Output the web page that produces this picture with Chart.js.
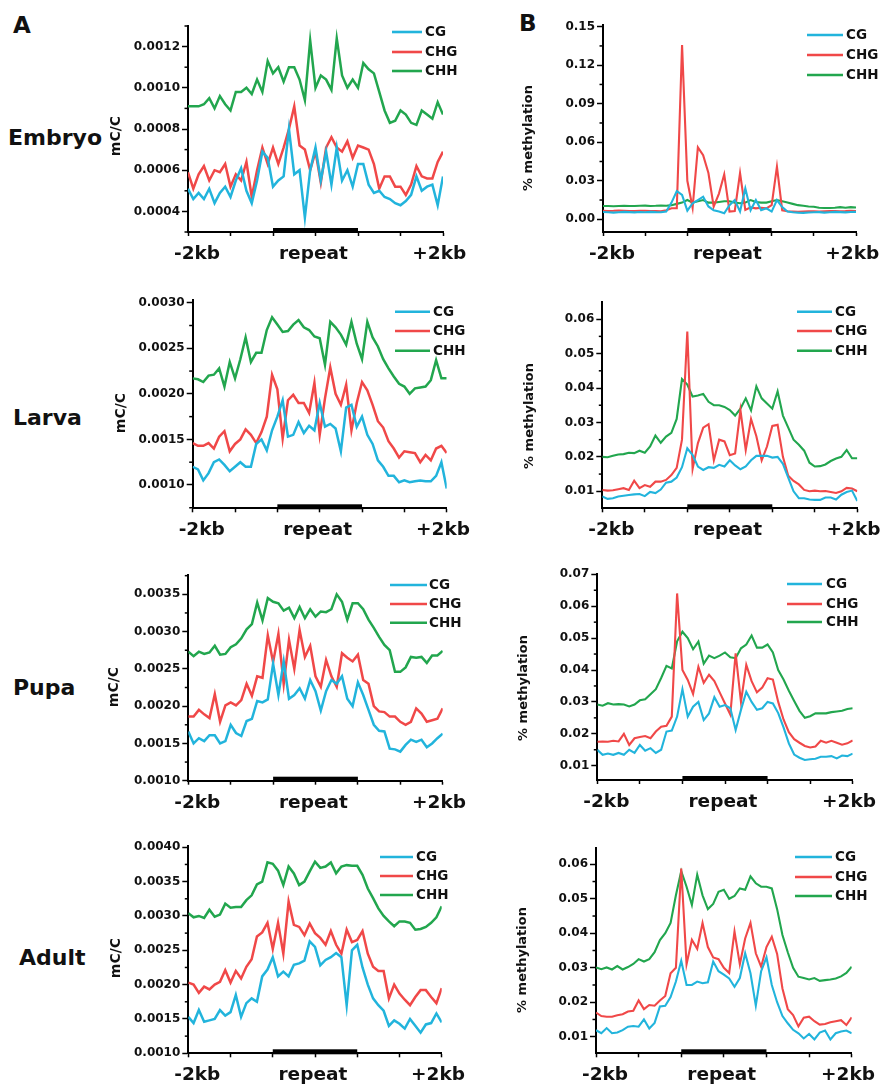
<!DOCTYPE html>
<html>
<head>
<meta charset="utf-8">
<script src="https://cdn.jsdelivr.net/npm/chart.js@4.4.1/dist/chart.umd.min.js"></script>
<style>
  body { margin: 0; background: #fff; }
  #fig { position: relative; width: 880px; height: 1085px; overflow: hidden;
         font-family: 'DejaVu Sans', sans-serif; font-weight: bold; color: #111; }
  #fig canvas { position: absolute; }
  .lbl { position: absolute; line-height: 1; white-space: nowrap; }
</style>
</head>
<body>
<div id="fig">
  <div class="lbl" style="left:13px;top:14px;font-size:23px;">A</div>
  <div class="lbl" style="left:519px;top:12px;font-size:23px;">B</div>
  <div class="lbl" style="left:8px;top:127px;font-size:22px;">Embryo</div>
  <div class="lbl" style="left:13px;top:407px;font-size:22px;">Larva</div>
  <div class="lbl" style="left:13px;top:677px;font-size:22px;">Pupa</div>
  <div class="lbl" style="left:19px;top:947px;font-size:22px;">Adult</div>
</div>
<script>
// Methylation profiles around repeats: 49 bins, -2kb flank | repeat | +2kb flank

const seriesNames = ['CG', 'CHG', 'CHH'];
const xLabels = ['-2kb', 'repeat', '+2kb'];

// ---- A: mC/C ----
const embryoCG = [.00051,.00046,.00049,.00046,.00051,.00044,.00049,.00052,.00047,.00055,.00061,.00050,
  .00044,.00055,.00069,.00066,.00052,.00055,.00057,.00080,.00058,.00060,.00037,.00060,
  .00071,.00055,.00069,.00053,.00071,.00055,.00060,.00052,.00063,.00063,.00053,.00049,
  .00050,.00047,.00046,.00044,.00043,.00045,.00048,.00057,.00050,.00052,.00053,.00043,.00057];
const embryoCHG = [.00059,.00051,.00058,.00062,.00055,.00060,.00059,.00063,.00052,.00058,.00055,.00064,
  .00047,.00060,.00071,.00063,.00071,.00063,.00071,.00080,.00091,.00072,.00070,.00060,
  .00069,.00054,.00071,.00076,.00071,.00069,.00074,.00066,.00072,.00071,.00070,.00063,
  .00051,.00057,.00057,.00052,.00052,.00048,.00053,.00062,.00057,.00056,.00056,.00064,.00069];
const embryoCHH = [.00091,.00091,.00091,.00092,.00095,.00090,.00096,.00092,.00089,.00098,.00098,.00100,
  .00097,.00104,.00098,.00113,.00107,.00110,.00103,.00110,.00110,.00104,.00094,.00123,
  .00100,.00106,.00104,.00099,.00124,.00106,.00100,.00104,.00100,.00112,.00109,.00107,
  .00098,.00089,.00083,.00084,.00089,.00087,.00083,.00082,.00089,.00087,.00085,.00093,.00087];

const larvaCG = [.00120,.00117,.00105,.00113,.00125,.00128,.00122,.00115,.00120,.00125,.00120,.00120,
  .00145,.00150,.00138,.00160,.00175,.00193,.00153,.00155,.00169,.00157,.00165,.00160,
  .00190,.00164,.00167,.00162,.00137,.00185,.00188,.00164,.00175,.00155,.00145,.00127,
  .00120,.00110,.00110,.00103,.00105,.00103,.00104,.00105,.00104,.00104,.00110,.00125,.00096];
const larvaCHG = [.00146,.00143,.00143,.00146,.00140,.00153,.00159,.00137,.00145,.00150,.00161,.00155,
  .00146,.00158,.00175,.00221,.00205,.00151,.00193,.00199,.00190,.00190,.00179,.00212,
  .00155,.00195,.00229,.00200,.00188,.00210,.00160,.00190,.00213,.00204,.00188,.00170,
  .00163,.00148,.00140,.00130,.00137,.00136,.00135,.00125,.00133,.00127,.00140,.00143,.00135];
const larvaCHH = [.00217,.00216,.00213,.00220,.00221,.00228,.00208,.00235,.00217,.00238,.00262,.00235,
  .00245,.00245,.00270,.00284,.00276,.00268,.00269,.00276,.00281,.00273,.00270,.00263,
  .00261,.00232,.00279,.00273,.00265,.00254,.00279,.00255,.00238,.00279,.00262,.00252,
  .00238,.00228,.00219,.00211,.00208,.00200,.00206,.00207,.00208,.00215,.00237,.00217,.00217];

const pupaCG = [.00166,.00150,.00157,.00153,.00161,.00161,.00150,.00153,.00175,.00164,.00160,.00180,
  .00183,.00207,.00205,.00209,.00257,.00215,.00260,.00210,.00215,.00224,.00210,.00235,
  .00220,.00194,.00220,.00235,.00230,.00240,.00210,.00200,.00232,.00215,.00195,.00175,
  .00167,.00166,.00143,.00142,.00139,.00148,.00155,.00152,.00155,.00145,.00150,.00157,.00163];
const pupaCHG = [.00186,.00186,.00195,.00189,.00184,.00216,.00179,.00201,.00205,.00201,.00208,.00230,
  .00214,.00240,.00238,.00295,.00259,.00297,.00230,.00289,.00250,.00302,.00266,.00281,
  .00240,.00226,.00262,.00240,.00226,.00271,.00265,.00260,.00269,.00235,.00230,.00200,
  .00193,.00192,.00186,.00186,.00179,.00175,.00179,.00197,.00190,.00179,.00181,.00183,.00197];
const pupaCHH = [.00273,.00267,.00273,.00270,.00272,.00281,.00269,.00270,.00279,.00283,.00291,.00303,
  .00310,.00339,.00315,.00345,.00340,.00338,.00328,.00332,.00318,.00333,.00318,.00330,
  .00320,.00327,.00326,.00330,.00350,.00340,.00316,.00338,.00338,.00330,.00316,.00305,
  .00293,.00282,.00275,.00246,.00246,.00252,.00266,.00265,.00266,.00258,.00268,.00268,.00274];

const adultCG = [.00153,.00144,.00163,.00146,.00148,.00150,.00163,.00155,.00160,.00185,.00153,.00173,
  .00180,.00175,.00212,.00222,.00240,.00212,.00219,.00212,.00229,.00231,.00235,.00263,
  .00255,.00228,.00236,.00240,.00246,.00240,.00170,.00250,.00258,.00225,.00200,.00180,
  .00170,.00162,.00140,.00148,.00143,.00136,.00150,.00140,.00130,.00142,.00144,.00158,.00145];
const adultCHG = [.00203,.00200,.00188,.00197,.00193,.00200,.00204,.00221,.00203,.00220,.00209,.00226,
  .00237,.00270,.00276,.00290,.00252,.00290,.00245,.00321,.00287,.00284,.00272,.00289,
  .00275,.00268,.00258,.00278,.00258,.00245,.00280,.00262,.00265,.00278,.00245,.00226,
  .00220,.00220,.00180,.00200,.00187,.00178,.00170,.00182,.00192,.00192,.00182,.00173,.00195];
const adultCHH = [.00304,.00298,.00300,.00297,.00309,.00299,.00302,.00318,.00312,.00313,.00313,.00323,
  .00330,.00346,.00350,.00378,.00376,.00366,.00345,.00372,.00362,.00345,.00350,.00365,
  .00379,.00370,.00372,.00378,.00362,.00372,.00374,.00373,.00373,.00360,.00340,.00326,
  .00311,.00300,.00292,.00285,.00292,.00292,.00290,.00280,.00281,.00284,.00290,.00298,.00314];

// ---- B: % methylation ----
const embryoPctCG = [.0057,.0055,.0052,.0055,.0058,.0056,.0054,.0057,.0055,.0058,.0056,.0055,.0060,
  .0130,.0220,.0190,.0067,.0125,.0150,.0176,.0100,.0070,.0060,.0047,.0110,.0150,.0060,.0240,.0070,.0150,.0070,.0086,.0060,.0150,.0095,.0060,
  .0055,.0052,.0050,.0053,.0055,.0056,.0052,.0055,.0058,.0056,.0054,.0057,.0058];
const embryoPctCHG = [.0067,.0065,.0066,.0068,.0066,.0064,.0065,.0067,.0066,.0065,.0064,.0062,.0070,
  .0086,.0086,.1357,.0300,.0090,.0560,.0500,.0360,.0099,.0200,.0350,.0060,.0065,.0360,.0073,.0093,.0085,.0090,.0085,.0110,.0410,.0070,
  .0062,.0060,.0058,.0060,.0062,.0063,.0060,.0062,.0064,.0065,.0063,.0064,.0066,.0065];
const embryoPctCHH = [.0104,.0103,.0102,.0104,.0105,.0104,.0103,.0105,.0106,.0104,.0105,.0107,.0106,
  .0110,.0120,.0130,.0150,.0130,.0140,.0150,.0130,.0130,.0135,.0140,.0140,.0130,.0125,.0130,.0150,.0135,.0130,.0130,.0140,.0150,.0140,.0130,
  .0120,.0110,.0105,.0100,.0098,.0090,.0088,.0088,.0090,.0095,.0090,.0095,.0092];

const larvaPctCG = [.0085,.0078,.0080,.0085,.0087,.0089,.0091,.0092,.0086,.0098,.0095,.0105,
  .0125,.0128,.0140,.0170,.0225,.0205,.0172,.0162,.0170,.0168,.0177,.0172,
  .0190,.0175,.0164,.0172,.0190,.0203,.0203,.0203,.0198,.0200,.0180,.0140,
  .0100,.0080,.0080,.0076,.0075,.0075,.0082,.0082,.0076,.0090,.0098,.0102,.0072];
const larvaPctCHG = [.0104,.0102,.0103,.0106,.0109,.0104,.0131,.0109,.0118,.0113,.0128,.0128,
  .0133,.0147,.0168,.0250,.0564,.0165,.0240,.0285,.0295,.0190,.0250,.0245,
  .0205,.0210,.0336,.0220,.0310,.0260,.0190,.0230,.0290,.0293,.0200,.0145,
  .0130,.0120,.0104,.0100,.0102,.0100,.0101,.0098,.0095,.0100,.0110,.0108,.0100];
const larvaPctCHH = [.0200,.0199,.0203,.0207,.0208,.0212,.0211,.0218,.0212,.0230,.0262,.0241,
  .0259,.0270,.0310,.0426,.0410,.0375,.0378,.0383,.0360,.0350,.0350,.0345,
  .0336,.0320,.0340,.0370,.0335,.0405,.0370,.0355,.0340,.0390,.0320,.0285,
  .0250,.0235,.0218,.0183,.0172,.0173,.0178,.0188,.0195,.0200,.0220,.0196,.0196];

const pupaPctCG = [.0150,.0134,.0138,.0134,.0140,.0134,.0150,.0140,.0165,.0147,.0155,.0140,
  .0150,.0207,.0210,.0254,.0340,.0254,.0285,.0300,.0243,.0264,.0315,.0285,
  .0290,.0280,.0212,.0275,.0332,.0300,.0275,.0280,.0300,.0295,.0265,.0220,
  .0170,.0135,.0125,.0118,.0120,.0122,.0128,.0128,.0130,.0123,.0132,.0130,.0138];
const pupaPctCHG = [.0175,.0176,.0175,.0178,.0176,.0200,.0165,.0186,.0190,.0193,.0186,.0207,
  .0222,.0225,.0254,.0640,.0400,.0369,.0325,.0410,.0360,.0385,.0365,.0330,
  .0295,.0260,.0452,.0300,.0416,.0365,.0330,.0345,.0374,.0370,.0300,.0245,
  .0205,.0183,.0172,.0162,.0157,.0160,.0178,.0172,.0178,.0172,.0166,.0170,.0179];
const pupaPctCHH = [.0292,.0288,.0296,.0292,.0293,.0292,.0286,.0292,.0305,.0308,.0324,.0340,
  .0375,.0413,.0405,.0490,.0520,.0500,.0465,.0489,.0420,.0445,.0437,.0445,
  .0455,.0440,.0437,.0468,.0480,.0508,.0470,.0470,.0480,.0455,.0400,.0370,
  .0335,.0303,.0272,.0250,.0255,.0264,.0264,.0264,.0268,.0270,.0272,.0278,.0280];

const adultPctCG = [.0119,.0110,.0125,.0110,.0112,.0119,.0129,.0131,.0129,.0150,.0124,.0140,
  .0188,.0190,.0215,.0260,.0320,.0250,.0250,.0260,.0255,.0258,.0318,.0290,
  .0280,.0269,.0245,.0270,.0342,.0284,.0190,.0290,.0330,.0250,.0200,.0160,
  .0139,.0120,.0110,.0095,.0108,.0092,.0112,.0118,.0092,.0110,.0115,.0118,.0110];
const adultPctCHG = [.0170,.0160,.0158,.0158,.0162,.0165,.0173,.0175,.0205,.0180,.0192,.0190,
  .0205,.0218,.0284,.0300,.0588,.0310,.0381,.0355,.0430,.0360,.0330,.0325,
  .0300,.0285,.0405,.0310,.0385,.0430,.0342,.0303,.0360,.0390,.0340,.0240,
  .0180,.0163,.0130,.0155,.0158,.0145,.0135,.0137,.0142,.0145,.0148,.0134,.0156];
const adultPctCHH = [.0301,.0296,.0301,.0295,.0305,.0295,.0302,.0311,.0325,.0318,.0325,.0345,
  .0380,.0400,.0430,.0510,.0580,.0535,.0482,.0570,.0510,.0470,.0485,.0520,
  .0526,.0500,.0508,.0530,.0526,.0565,.0545,.0535,.0535,.0530,.0470,.0395,
  .0345,.0300,.0274,.0270,.0266,.0270,.0262,.0264,.0266,.0269,.0275,.0285,.0303];

// y tick labels
const mcTicksEmbryo = [0.0004, 0.0006, 0.0008, 0.0010, 0.0012];
const mcTicksLarva = [0.0010, 0.0015, 0.0020, 0.0025, 0.0030];
const mcTicksPupa = [0.0010, 0.0015, 0.0020, 0.0025, 0.0030, 0.0035];
const mcTicksAdult = [0.0010, 0.0015, 0.0020, 0.0025, 0.0030, 0.0035, 0.0040];
const pctTicksEmbryo = [0.00, 0.03, 0.06, 0.09, 0.12, 0.15];
const pctTicksLarva = [0.01, 0.02, 0.03, 0.04, 0.05, 0.06];
const pctTicksPupa = [0.01, 0.02, 0.03, 0.04, 0.05, 0.06, 0.07];
const pctTicksAdult = [0.01, 0.02, 0.03, 0.04, 0.05, 0.06];

const COLORS = ['#22b4dc', '#f04848', '#22a64e'];
const FONT = 'DejaVu Sans';
const xMarks = [0, 8, 16, 24, 32, 40, 48];
const xLabelPos = [1.7, 23.6, 47.3];

// panel layout (page pixels)
const panels = [
  { col: 'A', series: [embryoCG, embryoCHG, embryoCHH], ticks: mcTicksEmbryo, dec: 4, min: 0.0003, max: 0.0013,
    area: { l: 188, r: 443, t: 26, b: 232 }, title: 'mC/C', tx: 116, ty: 136,
    leg: { x1: 392, x2: 422, tx: 425, rows: [32, 52, 71] } },
  { col: 'B', series: [embryoPctCG, embryoPctCHG, embryoPctCHH], ticks: pctTicksEmbryo, dec: 2, min: -0.0099, max: 0.1513,
    area: { l: 603, r: 856, t: 25, b: 232 }, title: '% methylation', tx: 528.5, ty: 138,
    leg: { x1: 807, x2: 843, tx: 846, rows: [35, 55, 75] } },
  { col: 'A', series: [larvaCG, larvaCHG, larvaCHH], ticks: mcTicksLarva, dec: 4, min: 0.000744, max: 0.00303,
    area: { l: 192.7, r: 446.7, t: 300, b: 508.3 }, title: 'mC/C', tx: 121, ty: 413,
    leg: { x1: 395, x2: 430, tx: 433, rows: [311.7, 331, 350.7] } },
  { col: 'B', series: [larvaPctCG, larvaPctCHG, larvaPctCHH], ticks: pctTicksLarva, dec: 2, min: 0.00506, max: 0.0649,
    area: { l: 602.3, r: 857.3, t: 302.3, b: 508.3 }, title: '% methylation', tx: 530, ty: 416,
    leg: { x1: 797, x2: 832, tx: 835, rows: [311.7, 331, 350.7] } },
  { col: 'A', series: [pupaCG, pupaCHG, pupaCHH], ticks: mcTicksPupa, dec: 4, min: 0.0010, max: 0.003759,
    area: { l: 188.3, r: 442.7, t: 575, b: 780.7 }, title: 'mC/C', tx: 114, ty: 687,
    leg: { x1: 390, x2: 427, tx: 429, rows: [585, 604, 622.7] } },
  { col: 'B', series: [pupaPctCG, pupaPctCHG, pupaPctCHH], ticks: pctTicksPupa, dec: 2, min: 0.00552, max: 0.07025,
    area: { l: 597.3, r: 852.7, t: 573.5, b: 780 }, title: '% methylation', tx: 523.5, ty: 688,
    leg: { x1: 787, x2: 822, tx: 826, rows: [584, 604, 622] } },
  { col: 'A', series: [adultCG, adultCHG, adultCHH], ticks: mcTicksAdult, dec: 4, min: 0.0010, max: 0.004026,
    area: { l: 188.3, r: 441.7, t: 845.5, b: 1053.3 }, title: 'mC/C', tx: 116, ty: 958,
    leg: { x1: 380, x2: 413, tx: 416, rows: [857, 876, 895] } },
  { col: 'B', series: [adultPctCG, adultPctCHG, adultPctCHH], ticks: pctTicksAdult, dec: 2, min: 0.00519, max: 0.06464,
    area: { l: 596, r: 851.7, t: 848.3, b: 1053.3 }, title: '% methylation', tx: 522.5, ty: 960,
    leg: { x1: 795, x2: 832, tx: 835, rows: [857, 877, 896] } }
];

// minor ticks, repeat bar, rotated axis title and inline legend
const decor = {
  id: 'decor',
  afterDraw(chart, args, o) {
    const { ctx, chartArea: a, scales: { x, y } } = chart;
    const p = o.panel;
    ctx.save();
    ctx.strokeStyle = '#000';
    ctx.lineWidth = 1.5;
    const step = p.ticks[1] - p.ticks[0];
    const minors = [p.ticks[0] - step / 2].concat(p.ticks.map(v => v + step / 2));
    minors.forEach(v => {
      if (v < p.min - 1e-9 || v > p.max + 1e-9) return;
      const py = y.getPixelForValue(v);
      ctx.beginPath(); ctx.moveTo(a.left - 3.5, py); ctx.lineTo(a.left, py); ctx.stroke();
    });
    // repeat body on the x axis
    const x1 = x.getPixelForValue(16), x2 = x.getPixelForValue(32);
    ctx.fillStyle = '#000';
    ctx.fillRect(x1, a.bottom - 4, x2 - x1, 5);
    // y title
    ctx.translate(p.tx - o.cl, p.ty - o.ct);
    ctx.rotate(-Math.PI / 2);
    ctx.font = `bold ${p.col === 'A' ? 14 : 13}px '${FONT}'`;
    ctx.textAlign = 'center';
    ctx.textBaseline = 'middle';
    ctx.fillStyle = '#111';
    ctx.fillText(p.title, 0, 0);
    ctx.restore();
    // legend
    ctx.save();
    ctx.font = `bold 13.5px '${FONT}'`;
    ctx.textBaseline = 'middle';
    ctx.fillStyle = '#111';
    chart.data.datasets.forEach((ds, i) => {
      const ly = p.leg.rows[i] - o.ct;
      ctx.strokeStyle = ds.borderColor;
      ctx.lineWidth = 2.6;
      ctx.beginPath(); ctx.moveTo(p.leg.x1 - o.cl, ly); ctx.lineTo(p.leg.x2 - o.cl, ly); ctx.stroke();
      ctx.fillText(ds.label, p.leg.tx - o.cl, ly + 0.5);
    });
    ctx.restore();
  }
};

const fig = document.getElementById('fig');
const YW = 60, XH = 40;

panels.forEach(p => {
  const cl = p.col === 'A' ? 90 : 500;
  const cw = p.col === 'A' ? 400 : 380;
  const ct = Math.round(p.area.t) - 15;
  const ch = Math.round(p.area.b) + 50 - ct;
  const cv = document.createElement('canvas');
  cv.width = cw; cv.height = ch;
  cv.style.left = cl + 'px'; cv.style.top = ct + 'px';
  cv.style.width = cw + 'px'; cv.style.height = ch + 'px';
  fig.appendChild(cv);

  new Chart(cv, {
    type: 'line',
    data: {
      datasets: p.series.map((vals, i) => ({
        label: seriesNames[i],
        data: vals.map((v, k) => ({ x: k, y: v })),
        borderColor: COLORS[i],
        borderWidth: p.col === 'A' ? 2.5 : 2.1,
        pointRadius: 0,
        tension: 0,
        fill: false
      }))
    },
    options: {
      responsive: false,
      animation: false,
      devicePixelRatio: 1,
      events: [],
      layout: {
        padding: {
          left: p.area.l - cl - YW,
          right: cl + cw - p.area.r,
          top: p.area.t - ct,
          bottom: ct + ch - p.area.b - XH
        }
      },
      plugins: {
        legend: { display: false },
        tooltip: { enabled: false },
        decor: { panel: p, cl: cl, ct: ct }
      },
      scales: {
        x: {
          type: 'linear',
          min: 0,
          max: 48,
          afterFit: s => { s.height = XH; },
          afterBuildTicks: s => {
            s.ticks = xMarks.concat(xLabelPos).sort((a, b) => a - b).map(v => ({ value: v }));
          },
          ticks: {
            autoSkip: false,
            maxRotation: 0,
            padding: 7,
            color: '#111',
            font: { family: FONT, size: 18.5, weight: 'bold' },
            callback: v => {
              const k = xLabelPos.indexOf(v);
              return k >= 0 ? xLabels[k] : '';
            }
          },
          grid: {
            drawOnChartArea: false,
            drawTicks: true,
            tickLength: 4,
            tickWidth: 1.5,
            tickColor: c => xMarks.includes(c.tick.value) ? '#000' : 'rgba(0,0,0,0)'
          },
          border: { color: '#000', width: 2 }
        },
        y: {
          min: p.min,
          max: p.max,
          afterFit: s => { s.width = YW; },
          afterBuildTicks: s => { s.ticks = p.ticks.map(v => ({ value: v })); },
          ticks: {
            padding: 2,
            color: '#111',
            font: { family: FONT, size: 12, weight: 'bold' },
            callback: v => v.toFixed(p.dec)
          },
          grid: {
            drawOnChartArea: false,
            tickLength: 6,
            tickWidth: 1.5,
            tickColor: '#000'
          },
          border: { color: '#000', width: 2 }
        }
      }
    },
    plugins: [decor]
  });
});
</script>
</body>
</html>
